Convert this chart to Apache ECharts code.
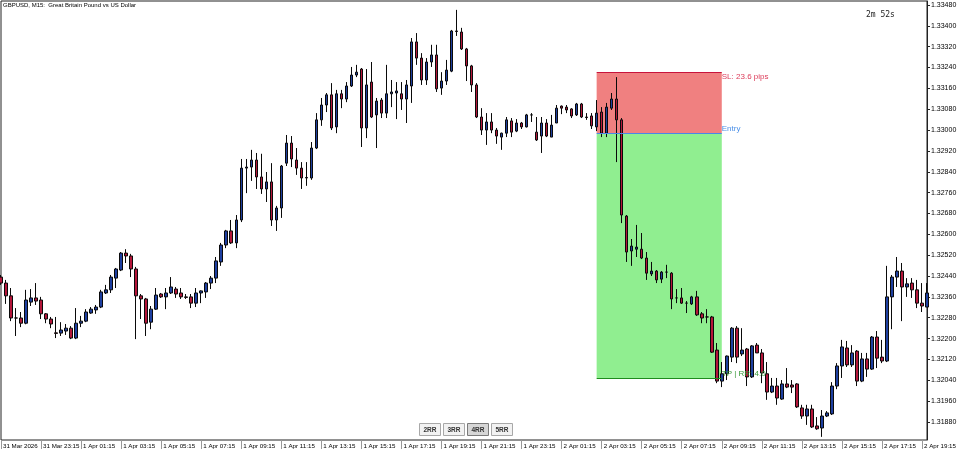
<!DOCTYPE html>
<html><head><meta charset="utf-8">
<script src="https://cdn.jsdelivr.net/npm/echarts@6/dist/echarts.min.js"></script>
<style>html,body{margin:0;padding:0;background:#fff}#c{width:960px;height:455px}</style>
</head><body><div id="c"></div>
<script>
// ---- data ----
const titleText = 'GBPUSD, M15:  Great Britain Pound vs US Dollar';
const countdownText = '2m 52s';
const firstLabel = '31 Mar 2026';
const dayNames = ['31 Mar', '1 Apr', '2 Apr'];
const startMinutes = 21 * 60 + 15;   // first bar 31 Mar 21:15
const stepMinutes = 15;               // M15

// [open, close, low, high]
const bars = [
[1.32436,1.32413,1.32406,1.32444],[1.32413,1.32364,1.32333,1.32425],[1.32364,1.32279,1.32267,1.32394],[1.32279,1.32279,1.32210,1.32317],
[1.32279,1.32259,1.32244,1.32302],[1.32259,1.32348,1.32255,1.32387],[1.32340,1.32356,1.32325,1.32390],[1.32356,1.32344,1.32329,1.32413],
[1.32348,1.32295,1.32275,1.32360],[1.32295,1.32275,1.32259,1.32298],[1.32275,1.32256,1.32240,1.32283],[1.32222,1.32220,1.32202,1.32283],
[1.32221,1.32233,1.32210,1.32263],[1.32229,1.32240,1.32214,1.32256],[1.32240,1.32202,1.32198,1.32248],[1.32202,1.32259,1.32198,1.32317],
[1.32259,1.32267,1.32244,1.32287],[1.32267,1.32302,1.32263,1.32313],[1.32298,1.32313,1.32295,1.32321],[1.32310,1.32321,1.32295,1.32329],
[1.32321,1.32379,1.32317,1.32387],[1.32375,1.32387,1.32371,1.32406],[1.32387,1.32436,1.32375,1.32444],[1.32432,1.32467,1.32394,1.32471],
[1.32463,1.32528,1.32459,1.32532],[1.32528,1.32517,1.32490,1.32543],[1.32517,1.32467,1.32436,1.32525],[1.32467,1.32364,1.32198,1.32475],
[1.32364,1.32352,1.32275,1.32371],[1.32352,1.32259,1.32210,1.32356],[1.32263,1.32313,1.32236,1.32325],[1.32313,1.32367,1.32310,1.32394],
[1.32371,1.32360,1.32356,1.32375],[1.32360,1.32375,1.32313,1.32394],[1.32375,1.32398,1.32371,1.32436],[1.32390,1.32371,1.32356,1.32398],
[1.32375,1.32360,1.32352,1.32394],[1.32360,1.32358,1.32352,1.32371],[1.32360,1.32336,1.32317,1.32371],[1.32336,1.32375,1.32321,1.32394],
[1.32375,1.32383,1.32336,1.32385],[1.32379,1.32413,1.32356,1.32417],[1.32413,1.32432,1.32390,1.32440],[1.32432,1.32498,1.32413,1.32513],
[1.32494,1.32559,1.32479,1.32567],[1.32559,1.32613,1.32547,1.32617],[1.32613,1.32567,1.32563,1.32655],[1.32567,1.32655,1.32547,1.32674],
[1.32655,1.32854,1.32647,1.32889],[1.32854,1.32858,1.32758,1.32889],[1.32858,1.32885,1.32805,1.32924],[1.32885,1.32820,1.32774,1.32912],
[1.32820,1.32774,1.32755,1.32909],[1.32774,1.32801,1.32724,1.32839],[1.32801,1.32655,1.32632,1.32873],[1.32655,1.32701,1.32613,1.32709],
[1.32701,1.32862,1.32663,1.32866],[1.32873,1.32950,1.32862,1.32981],[1.32950,1.32889,1.32858,1.32977],[1.32885,1.32854,1.32828,1.32931],
[1.32854,1.32816,1.32774,1.32877],[1.32816,1.32818,1.32786,1.32877],[1.32816,1.32931,1.32809,1.32954],[1.32931,1.33039,1.32927,1.33065],
[1.33039,1.33096,1.33016,1.33123],[1.33096,1.33135,1.33069,1.33142],[1.33135,1.33008,1.33000,1.33180],[1.33012,1.33139,1.32988,1.33154],
[1.33139,1.33119,1.33084,1.33154],[1.33119,1.33169,1.33107,1.33184],[1.33169,1.33211,1.33165,1.33242],[1.33211,1.33222,1.33203,1.33250],
[1.33234,1.33008,1.32935,1.33238],[1.33008,1.33173,1.32969,1.33234],[1.33184,1.33050,1.33046,1.33261],[1.33058,1.33111,1.32931,1.33123],
[1.33115,1.33065,1.33046,1.33123],[1.33065,1.33139,1.33046,1.33250],[1.33139,1.33146,1.33088,1.33192],[1.33142,1.33150,1.33042,1.33184],
[1.33139,1.33119,1.33077,1.33184],[1.33119,1.33173,1.33027,1.33192],[1.33169,1.33338,1.33104,1.33353],[1.33338,1.33276,1.33250,1.33372],
[1.33276,1.33192,1.33173,1.33295],[1.33192,1.33261,1.33173,1.33276],[1.33261,1.33288,1.33242,1.33327],[1.33288,1.33158,1.33146,1.33327],
[1.33161,1.33188,1.33135,1.33222],[1.33188,1.33230,1.33173,1.33269],[1.33226,1.33380,1.33222,1.33384],[1.33380,1.33378,1.33361,1.33461],
[1.33376,1.33311,1.33307,1.33392],[1.33311,1.33246,1.33188,1.33315],[1.33246,1.33173,1.33146,1.33250],[1.33173,1.33050,1.33046,1.33180],
[1.33050,1.33000,1.32981,1.33084],[1.33000,1.33031,1.32943,1.33065],[1.33031,1.33000,1.32988,1.33065],[1.33000,1.32977,1.32947,1.33008],
[1.32973,1.32988,1.32924,1.32990],[1.32988,1.33039,1.32973,1.33050],[1.33035,1.32992,1.32973,1.33046],[1.32996,1.33027,1.32992,1.33042],
[1.33027,1.33012,1.33004,1.33031],[1.33012,1.33058,1.33010,1.33062],[1.33058,1.33058,1.33031,1.33065],[1.32992,1.32962,1.32958,1.33050],
[1.32977,1.33027,1.32912,1.33050],[1.33027,1.32977,1.32973,1.33042],[1.32973,1.33019,1.32973,1.33058],[1.33027,1.33084,1.33027,1.33096],
[1.33092,1.33084,1.33061,1.33094],[1.33088,1.33077,1.33065,1.33096],[1.33081,1.33054,1.33046,1.33084],[1.33058,1.33100,1.33054,1.33104],
[1.33100,1.33050,1.33046,1.33104],[1.33050,1.33048,1.33039,1.33065],[1.33054,1.33016,1.33004,1.33065],[1.33012,1.33065,1.32996,1.33115],
[1.33069,1.32988,1.32973,1.33088],[1.32988,1.33088,1.32973,1.33104],[1.33084,1.33119,1.33077,1.33142],[1.33119,1.33039,1.32877,1.33203],
[1.33039,1.32674,1.32643,1.33046],[1.32670,1.32532,1.32494,1.32674],[1.32536,1.32555,1.32479,1.32582],[1.32543,1.32551,1.32513,1.32636],
[1.32543,1.32509,1.32505,1.32605],[1.32509,1.32451,1.32425,1.32532],[1.32448,1.32459,1.32440,1.32494],[1.32459,1.32425,1.32413,1.32463],
[1.32428,1.32455,1.32413,1.32459],[1.32455,1.32455,1.32432,1.32483],[1.32451,1.32352,1.32313,1.32455],[1.32356,1.32356,1.32336,1.32390],
[1.32356,1.32336,1.32333,1.32394],[1.32336,1.32336,1.32298,1.32344],[1.32333,1.32360,1.32329,1.32364],[1.32360,1.32291,1.32287,1.32383],
[1.32295,1.32279,1.32259,1.32302],[1.32283,1.32283,1.32259,1.32313],[1.32283,1.32148,1.32145,1.32287],[1.32156,1.32037,1.32029,1.32183],
[1.32037,1.32065,1.32014,1.32110],[1.32065,1.32133,1.32041,1.32135],[1.32129,1.32240,1.32110,1.32244],[1.32240,1.32129,1.32106,1.32248],
[1.32141,1.32156,1.32133,1.32240],[1.32160,1.32053,1.32018,1.32164],[1.32053,1.32172,1.32049,1.32175],[1.32175,1.32145,1.32145,1.32183],
[1.32145,1.32068,1.32029,1.32160],[1.32065,1.31995,1.31965,1.32110],[1.31995,1.32018,1.31991,1.32049],[1.32018,1.31972,1.31946,1.32049],
[1.31968,1.32026,1.31965,1.32041],[1.32026,1.32014,1.32010,1.32087],[1.32022,1.32014,1.31991,1.32041],[1.32026,1.31938,1.31934,1.32029],
[1.31934,1.31903,1.31892,1.31946],[1.31903,1.31930,1.31869,1.31946],[1.31930,1.31861,1.31857,1.31946],[1.31865,1.31854,1.31850,1.31899],
[1.31857,1.31903,1.31823,1.31926],[1.31903,1.31915,1.31899,1.31922],[1.31911,1.32018,1.31907,1.32033],[1.32018,1.32095,1.32006,1.32106],
[1.32095,1.32168,1.32049,1.32195],[1.32164,1.32099,1.32091,1.32191],[1.32099,1.32145,1.32091,1.32175],[1.32152,1.32037,1.32018,1.32156],
[1.32037,1.32122,1.32033,1.32145],[1.32122,1.32083,1.32053,1.32145],[1.32083,1.32206,1.32080,1.32210],[1.32206,1.32125,1.32087,1.32229],
[1.32129,1.32114,1.32106,1.32195],[1.32114,1.32360,1.32110,1.32479],[1.32360,1.32436,1.32236,1.32444],[1.32436,1.32459,1.32398,1.32513],
[1.32459,1.32398,1.32267,1.32490],[1.32398,1.32410,1.32360,1.32432],[1.32413,1.32387,1.32356,1.32432],[1.32387,1.32336,1.32317,1.32425],
[1.32336,1.32325,1.32302,1.32413],[1.32321,1.32375,1.32321,1.32413]
];

const yTicks = [1.31880,1.31960,1.32040,1.32120,1.32200,1.32280,1.32360,1.32440,1.32520,1.32600,
  1.32680,1.32760,1.32840,1.32920,1.33000,1.33080,1.33160,1.33240,1.33320,1.33400,1.33480];
const yMin = 1.31811, yMax = 1.33495;

// trade box
const slPrice = 1.33220, entryPrice = 1.32988, tpPrice = 1.32048;
const boxStartBar = 119, boxEndBar = 144;
const slText = 'SL: 23.6 pips', entryText = 'Entry', tpText = 'TP | RR: 4.0';
const buttonLabels = ['2RR', '3RR', '4RR', '5RR'];
const activeButton = '4RR';

// ---- categories (M15 bar times) ----
const pad = n => (n < 10 ? '0' : '') + n;
const categories = bars.map((_, i) => {
  const m = startMinutes + stepMinutes * i;
  const d = Math.floor(m / 1440), mm = m % 1440;
  return dayNames[d] + ' ' + pad(Math.floor(mm / 60)) + ':' + pad(mm % 60);
});

const FONT = 'Liberation Sans, Arial, sans-serif';
const chart = echarts.init(document.getElementById('c'), null, {renderer: 'canvas'});

const buttons = buttonLabels.map((t, k) => ({
  type: 'group', left: 419 + 24 * k, top: 423,
  children: [
    {type: 'rect', shape: {x: 0, y: 0, width: 21, height: 12},
     style: {fill: t === activeButton ? '#d6d6d6' : '#f2f2f2', stroke: t === activeButton ? '#7a7a7a' : '#a8a8a8', lineWidth: 1}},
    {type: 'text', x: 10.5, y: 6.5,
     style: {text: t, fill: '#333', font: 'bold 6.5px ' + FONT, align: 'center', verticalAlign: 'middle'}}
  ]
}));

function lineLabel(text, color, vAlign) {
  return {show: true, position: 'end', distance: 0, formatter: text, color: color, fontSize: 8,
    fontFamily: FONT, align: 'left', verticalAlign: vAlign};
}

const option = {
  animation: false,
  backgroundColor: '#ffffff',
  grid: {left: 1, right: 33, top: 1, bottom: 15, show: true, borderColor: '#222', borderWidth: 1, backgroundColor: 'transparent'},
  xAxis: {
    type: 'category', data: categories, boundaryGap: false,
    axisLine: {show: false},
    axisTick: {show: true, interval: 7, length: 9, lineStyle: {color: '#999'}},
    axisLabel: {interval: 7, align: 'left', margin: 3, fontSize: 6.2, color: '#000', fontFamily: FONT,
      padding: [0, 0, 0, 2], formatter: (v, i) => (i === 0 ? firstLabel : v)},
    splitLine: {show: false}
  },
  yAxis: {
    type: 'value', position: 'right', min: yMin, max: yMax,
    axisLine: {show: true, lineStyle: {color: '#222'}},
    axisTick: {show: true, length: 3, customValues: yTicks, lineStyle: {color: '#222'}},
    axisLabel: {customValues: yTicks, margin: 4, fontSize: 7, color: '#000', fontFamily: FONT,
      formatter: v => Number(v).toFixed(5)},
    splitLine: {show: false}
  },
  graphic: [
    {type: 'text', left: 3, top: 2, style: {text: titleText, fill: '#000', font: '6px ' + FONT}},
    {type: 'text', left: 866, top: 11, style: {text: countdownText, fill: '#222', font: '8px "DejaVu Sans Mono", monospace'}}
  ].concat(buttons),
  series: [
    {
      type: 'line', data: [], z: 1, silent: true, showSymbol: false,
      markArea: {
        silent: true,
        data: [
          [{coord: [categories[boxStartBar], slPrice], itemStyle: {color: '#F08080', opacity: 1}},
           {coord: [categories[boxEndBar], entryPrice]}],
          [{coord: [categories[boxStartBar], entryPrice], itemStyle: {color: '#90EE90', opacity: 1}},
           {coord: [categories[boxEndBar], tpPrice]}]
        ]
      },
      markLine: {
        silent: true, symbol: ['none', 'none'],
        data: [
          [{coord: [categories[boxStartBar], slPrice], lineStyle: {color: '#C8143C', width: 1, type: 'solid'},
            label: lineLabel(slText, '#DC3C5A', 'top')},
           {coord: [categories[boxEndBar], slPrice]}],
          [{coord: [categories[boxStartBar], entryPrice], lineStyle: {color: '#4A86E8', width: 1, type: 'solid'},
            label: lineLabel(entryText, '#4A8FE7', 'bottom')},
           {coord: [categories[boxEndBar], entryPrice]}],
          [{coord: [categories[boxStartBar], tpPrice], lineStyle: {color: '#1E8C1E', width: 1, type: 'solid'},
            label: lineLabel(tpText, '#3A9A3A', 'bottom')},
           {coord: [categories[boxEndBar], tpPrice]}]
        ]
      }
    },
    {
      type: 'candlestick', z: 2, data: bars, barWidth: 3,
      itemStyle: {color: '#1E3FA0', color0: '#B4163A', borderColor: '#0a0a0a', borderColor0: '#0a0a0a', borderWidth: 1}
    }
  ]
};
chart.setOption(option);
</script>
</body></html>
